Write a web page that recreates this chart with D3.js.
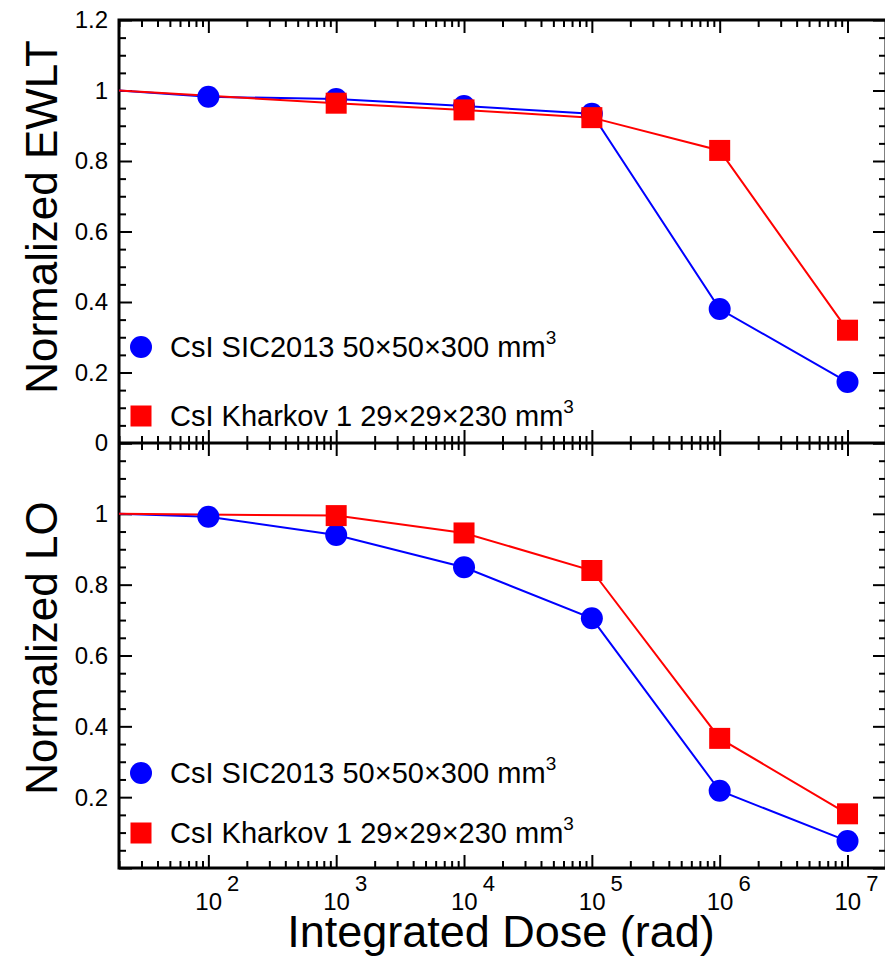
<!DOCTYPE html>
<html>
<head>
<meta charset="utf-8">
<script src="https://cdn.jsdelivr.net/npm/d3@7"></script>
<style>
  body { margin: 0; background: #fff; }
  svg { display: block; }
</style>
</head>
<body>
<div id="chart"></div>
<script>
// Normalized EWLT and LO of two CsI crystals versus integrated dose
(function() {
  "use strict";

  // integrated dose (rad); the first entry is the unirradiated reference at the left edge
  const doses = [20, 1e2, 1e3, 1e4, 1e5, 1e6, 1e7];

  // top panel: normalized EWLT
  const ewltSic = [1, 0.982, 0.976, 0.956, 0.934, 0.380, 0.173];
  const ewltKharkov = [1, null, 0.964, 0.945, 0.923, 0.830, 0.320];

  // bottom panel: normalized light output
  const loSic = [1, 0.992, 0.940, 0.849, 0.705, 0.218, 0.076];
  const loKharkov = [1, null, 0.995, 0.946, 0.840, 0.366, 0.153];

  const seriesNames = ["CsI SIC2013 50×50×300 mm", "CsI Kharkov 1 29×29×230 mm"];
  const xExponents = [2, 3, 4, 5, 6, 7];
  const yTickValues = [0, 0.2, 0.4, 0.6, 0.8, 1, 1.2];

  const width = 885, height = 960;
  const left = 119, right = 886, top = 20, mid = 443, bottom = 868;
  const font = "'Liberation Sans', Arial, sans-serif";
  const blue = "#0000ff", red = "#ff0000";

  const svg = d3.select("#chart").append("svg")
      .attr("width", width)
      .attr("height", height)
      .attr("viewBox", [0, 0, width, height])
      .style("font-family", font);

  const x = d3.scaleLog().domain([20, 2e7]).range([left, right]);
  const yTop = d3.scaleLinear().domain([0, 1.2]).range([mid, top]);
  const yBot = d3.scaleLinear().domain([0, 1.2]).range([bottom, mid]);

  const xMajor = xExponents.map(e => Math.pow(10, e));
  const xMinor = x.ticks().filter(d => !xMajor.some(m => Math.abs(m - d) < 1e-6));
  const yMinor = d3.range(0, 1.2001, 0.05).filter(d => Math.round(d * 100) % 20 !== 0);

  // helper to draw one tick-only axis
  function ticks(axisFn, scale, values, size, tx, ty) {
    const g = svg.append("g")
        .attr("transform", `translate(${tx},${ty})`)
        .call(axisFn(scale).tickValues(values).tickSize(size).tickFormat(""));
    g.select(".domain").remove();
    g.selectAll(".tick line").attr("stroke", "#000").attr("stroke-width", 2);
    return g;
  }

  // x ticks: top edge, middle line (both sides) and bottom edge
  [[d3.axisBottom, top], [d3.axisTop, mid], [d3.axisBottom, mid], [d3.axisTop, bottom]].forEach(([fn, ty]) => {
    ticks(fn, x, xMajor, 13, 0, ty);
    ticks(fn, x, xMinor, 7, 0, ty);
  });

  // y ticks on both sides of each panel
  [yTop, yBot].forEach(y => {
    ticks(d3.axisRight, y, yTickValues, 13, left, 0);
    ticks(d3.axisRight, y, yMinor, 7, left, 0);
    ticks(d3.axisLeft, y, yTickValues, 13, right, 0);
    ticks(d3.axisLeft, y, yMinor, 7, right, 0);
  });

  // frames
  svg.append("rect")
      .attr("x", left).attr("y", top)
      .attr("width", right - left).attr("height", bottom - top)
      .attr("fill", "none").attr("stroke", "#000").attr("stroke-width", 3);
  svg.append("line")
      .attr("x1", left).attr("x2", right)
      .attr("y1", mid).attr("y2", mid)
      .attr("stroke", "#000").attr("stroke-width", 3);

  // y tick labels
  svg.append("g")
      .attr("text-anchor", "end")
      .attr("font-size", 24)
    .selectAll("text")
    .data(yTickValues)
    .join("text")
      .attr("x", 108)
      .attr("y", d => yTop(d))
      .attr("dy", "0.35em")
      .text(d => d3.format("~g")(d));
  svg.append("g")
      .attr("text-anchor", "end")
      .attr("font-size", 24)
    .selectAll("text")
    .data(yTickValues.filter(d => d > 0 && d < 1.2))
    .join("text")
      .attr("x", 108)
      .attr("y", d => yBot(d))
      .attr("dy", "0.35em")
      .text(d => d3.format("~g")(d));

  // x tick labels 10^n, base and exponent in one text
  const xl = svg.append("g").attr("font-size", 24)
    .selectAll("text")
    .data(xExponents)
    .join("text")
      .attr("x", e => x(Math.pow(10, e)) - 13)
      .attr("y", 910);
  xl.append("tspan").text("10");
  xl.append("tspan")
      .attr("dx", 5)
      .attr("dy", -19)
      .attr("font-size", 22)
      .text(e => e);

  // axis titles
  svg.append("text")
      .attr("x", 501)
      .attr("y", 947)
      .attr("text-anchor", "middle")
      .attr("font-size", 45)
      .text("Integrated Dose (rad)");
  svg.append("text")
      .attr("transform", "translate(57,217) rotate(-90)")
      .attr("text-anchor", "middle")
      .attr("font-size", 44)
      .text("Normalized EWLT");
  svg.append("text")
      .attr("transform", "translate(57,648) rotate(-90)")
      .attr("text-anchor", "middle")
      .attr("font-size", 44)
      .text("Normalized LO");

  // data series
  function points(values) {
    return doses.map((d, i) => ({dose: d, v: values[i], i})).filter(p => p.v !== null);
  }

  function drawPanel(y, sic, kharkov) {
    const line = d3.line().x(p => x(p.dose)).y(p => y(p.v));
    const sicPts = points(sic), khPts = points(kharkov);

    svg.append("path")
        .attr("d", line(sicPts))
        .attr("fill", "none").attr("stroke", blue).attr("stroke-width", 2);
    svg.append("path")
        .attr("d", line(khPts))
        .attr("fill", "none").attr("stroke", red).attr("stroke-width", 2);

    svg.append("g").selectAll("circle")
      .data(sicPts.filter(p => p.i > 0))
      .join("circle")
        .attr("cx", p => x(p.dose))
        .attr("cy", p => y(p.v))
        .attr("r", 11)
        .attr("fill", blue);
    svg.append("g").selectAll("rect")
      .data(khPts.filter(p => p.i > 0))
      .join("rect")
        .attr("x", p => x(p.dose) - 10.5)
        .attr("y", p => y(p.v) - 10.5)
        .attr("width", 21)
        .attr("height", 21)
        .attr("fill", red);
  }

  drawPanel(yTop, ewltSic, ewltKharkov);
  drawPanel(yBot, loSic, loKharkov);

  // legends
  function legend(yCircle, ySquare) {
    const g = svg.append("g").attr("font-size", 29);
    g.append("circle").attr("cx", 141).attr("cy", yCircle).attr("r", 11).attr("fill", blue);
    g.append("rect").attr("x", 130.5).attr("y", ySquare - 10.5)
        .attr("width", 21).attr("height", 21).attr("fill", red);
    [yCircle, ySquare].forEach((yy, i) => {
      const t = g.append("text").attr("x", 170).attr("y", yy + 10);
      t.append("tspan").text(seriesNames[i]);
      t.append("tspan").attr("dy", -13).attr("font-size", 19).text("3");
    });
  }
  legend(347, 416);
  legend(773, 833);
})();
</script>
</body>
</html>
